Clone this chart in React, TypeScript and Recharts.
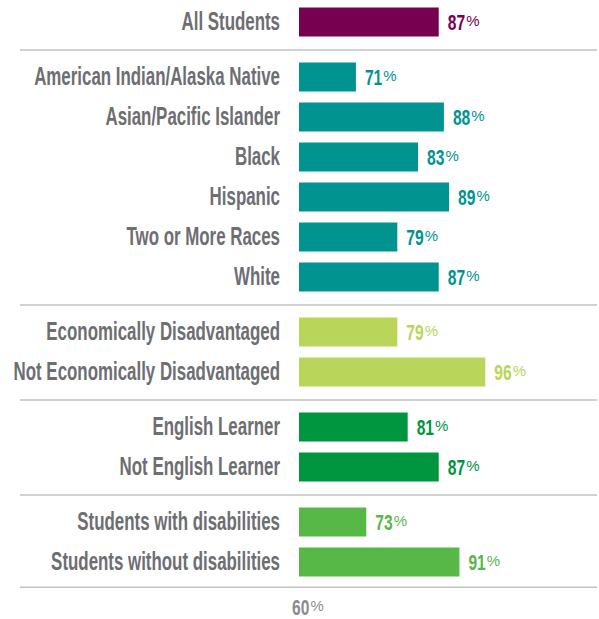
import { Bar, BarChart, Cell, LabelList, ReferenceLine, XAxis, YAxis } from "recharts";

const CATEGORIES = [
  "All Students",
  "American Indian/Alaska Native",
  "Asian/Pacific Islander",
  "Black",
  "Hispanic",
  "Two or More Races",
  "White",
  "Economically Disadvantaged",
  "Not Economically Disadvantaged",
  "English Learner",
  "Not English Learner",
  "Students with disabilities",
  "Students without disabilities",
];
const VALUES = [87, 71, 88, 83, 89, 79, 87, 79, 96, 81, 87, 73, 91];
const GROUPS = [0, 1, 1, 1, 1, 1, 1, 2, 2, 3, 3, 4, 4];
const GROUP_COLORS = ["#770050", "#00938f", "#b9d55a", "#00953f", "#57b847"];
const X_TICKS = [60];

const GROUP_GAP = 0.375;
const LABEL_FONT = "'Liberation Sans', Arial, sans-serif";
const DIGIT_W = 8.7; // width of one condensed digit in the value labels

// row positions: one unit per row, a little extra between groups
const positions: number[] = [];
CATEGORIES.forEach((_, i) => {
  if (i === 0) positions.push(0);
  else positions.push(positions[i - 1] + (GROUPS[i] !== GROUPS[i - 1] ? 1 + GROUP_GAP : 1));
});
const separators: number[] = [];
for (let i = 1; i < positions.length; i++) {
  if (GROUPS[i] !== GROUPS[i - 1]) separators.push((positions[i - 1] + positions[i]) / 2);
}
separators.push(positions[positions.length - 1] + 0.62);

const data = CATEGORIES.map((name, i) => ({
  name,
  value: VALUES[i],
  pos: positions[i],
  color: GROUP_COLORS[GROUPS[i]],
}));

const CategoryTick = (props: any) => {
  const { y, payload } = props;
  const row = data.find((d) => Math.abs(d.pos - payload.value) < 1e-6);
  if (!row) return null;
  return (
    <text
      transform={`translate(280,${y + 7.5}) scale(0.65,1)`}
      x={0}
      y={0}
      textAnchor="end"
      fontFamily={LABEL_FONT}
      fontWeight={700}
      fontSize={26}
      fill="#6d6e71"
    >
      {row.name}
    </text>
  );
};

const Percent = ({ x, y, text, color }: { x: number; y: number; text: string; color: string }) => (
  <g>
    <text
      transform={`translate(${x},${y}) scale(0.71,1)`}
      fontFamily={LABEL_FONT}
      fontWeight={700}
      fontSize={22}
      fill={color}
    >
      {text}
    </text>
    <text
      x={x + text.length * DIGIT_W + 1}
      y={y - 4}
      fontFamily={LABEL_FONT}
      fontWeight={400}
      fontSize={15}
      fill={color}
    >
      %
    </text>
  </g>
);

const PercentTick = (props: any) => {
  const { x, y, payload } = props;
  return <Percent x={x - 7} y={y + 14} text={String(payload.value)} color="#8b8c8e" />;
};

const ValueLabel = (props: any) => {
  const { x, y, width, height, value, index } = props;
  return (
    <Percent
      x={x + width + 9}
      y={y + height / 2 + 8}
      text={String(value)}
      color={data[index].color}
    />
  );
};

const SeparatorLine = (props: any) => (
  <line x1={20} x2={597} y1={props.y1} y2={props.y1} stroke="#c0c3c0" strokeWidth={1.5} />
);

export default function App() {
  return (
    <div style={{ position: "absolute", left: 0, top: 0, background: "#fff" }}>
      <BarChart
        width={599}
        height={619}
        data={data}
        layout="vertical"
        margin={{ top: 0, right: 93, left: 0, bottom: 0 }}
      >
        <XAxis
          type="number"
          domain={[60, 100]}
          ticks={X_TICKS}
          allowDataOverflow
          axisLine={false}
          tickLine={false}
          height={26}
          tick={<PercentTick />}
        />
        <YAxis
          type="number"
          dataKey="pos"
          domain={[-0.5625, 14.2625]}
          ticks={positions}
          interval={0}
          allowDataOverflow
          axisLine={false}
          tickLine={false}
          width={299}
          tick={<CategoryTick />}
        />
        {separators.map((s, i) => (
          <ReferenceLine key={`sep-${i}`} y={s} shape={<SeparatorLine />} />
        ))}
        <Bar dataKey="value" barSize={29} isAnimationActive={false}>
          {data.map((d, i) => (
            <Cell key={`cell-${i}`} fill={d.color} />
          ))}
          <LabelList dataKey="value" content={<ValueLabel />} />
        </Bar>
      </BarChart>
    </div>
  );
}
